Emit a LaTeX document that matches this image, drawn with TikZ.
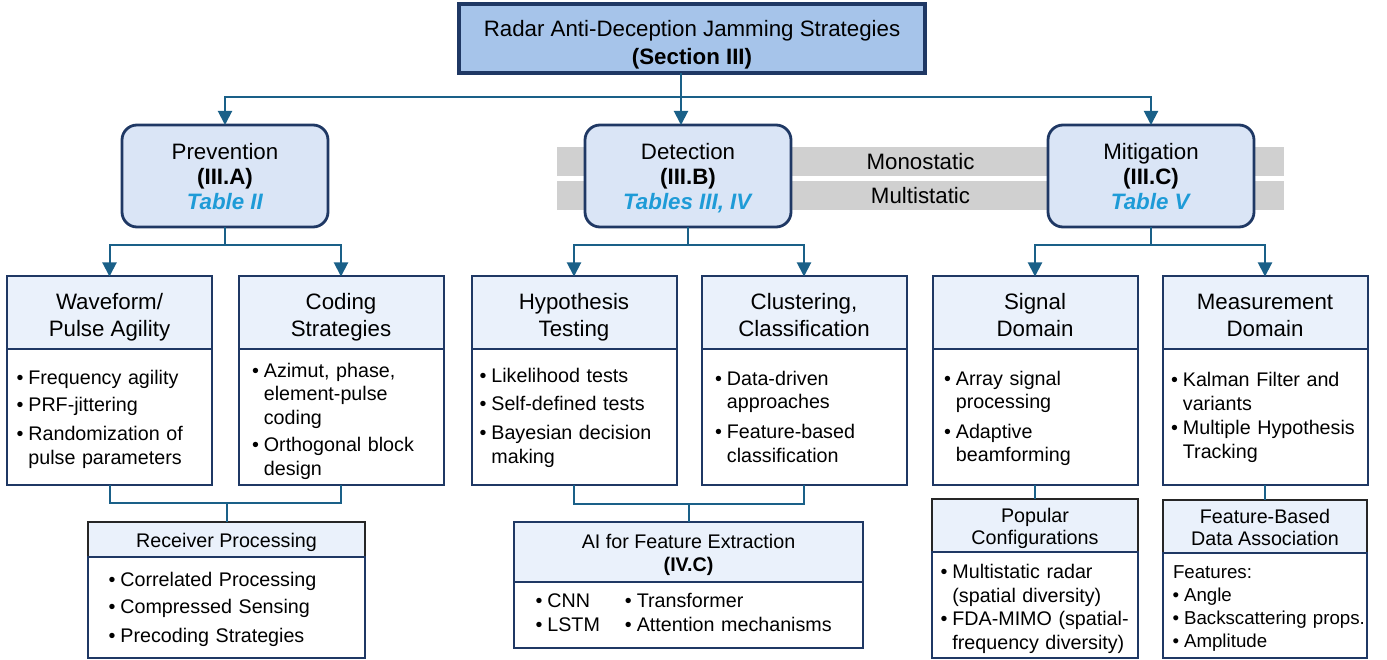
\documentclass[tikz,border=0pt]{standalone}
\usepackage{fontspec}
\setmainfont{Liberation Sans}
\usepackage{xcolor}
\usetikzlibrary{positioning, arrows.meta}

\definecolor{navy}{RGB}{31,56,100}
\definecolor{topfill}{RGB}{166,196,234}
\definecolor{midfill}{RGB}{218,229,246}
\definecolor{headfill}{RGB}{234,241,251}
\definecolor{linkcol}{RGB}{26,96,136}
\definecolor{tabcol}{RGB}{30,155,215}
\definecolor{bandgray}{RGB}{208,208,208}

\newcommand{\titlefont}{\fontsize{22.3}{28}\selectfont}
\newcommand{\midfont}{\fontsize{22.3}{25}\selectfont}
\newcommand{\headfont}{\fontsize{22.3}{27}\selectfont}
\newcommand{\itemfont}{\fontsize{19.7}{23.5}\selectfont}
\newcommand{\subfont}{\fontsize{19.7}{22.5}\selectfont}
\newcommand{\tbl}[1]{\textcolor{tabcol}{\textbf{\textit{#1}}}}
\newcommand{\fstheight}{16pt}
\newcommand{\fst}{\rule{0pt}{\fstheight}}
\newcommand{\dnstrut}[1]{\rule[-#1]{0pt}{#1}}
\newcommand{\bodydrop}{0pt}
\newenvironment{blist}[1][10pt]{\begin{tabular}{@{\hspace{#1}}l@{\hspace{5pt}}l@{}}}{\end{tabular}}

\begin{document}
\begin{tikzpicture}[x=1pt, y=-1pt,
	fst/.code={\def\fstheight{#1}},
	tail/.style={execute at end node={\dnstrut{#1}}},
	topbox/.style={draw=navy, line width=3.5pt, fill=topfill, minimum width=466pt, minimum height=69pt, inner sep=0pt, outer sep=0pt, align=center, font=\titlefont, fst=28.5pt, tail=5pt},
	midbox/.style={draw=navy, line width=2.8pt, fill=midfill, rounded corners=15pt, minimum width=206pt, minimum height=102pt, inner sep=0pt, outer sep=0pt, align=center, font=\midfont, fst=22pt, tail=5.4pt},
	band/.style={fill=bandgray, minimum width=727pt, minimum height=29pt, inner sep=0pt, font=\headfont},
	headbox/.style={draw=navy, line width=2pt, fill=headfill, minimum width=205pt, minimum height=72pt, inner sep=0pt, outer sep=0pt, align=center, font=\headfont, fst=26pt, tail=5pt},
	drop/.code={\def\bodydrop{#1}},
	bodybox/.style={draw=navy, line width=2pt, fill=white, text width=205pt, minimum height=136pt, inner sep=0pt, outer sep=0pt, align=left, font=\itemfont, execute at begin node={\vspace*{\bodydrop}}},
	subhead/.style={draw=black!85, line width=2pt, fill=headfill, inner sep=0pt, outer sep=0pt, align=center, font=\subfont, fst=20.5pt, tail=5pt},
	link/.style={draw=linkcol, line width=2pt},
	arr/.style={link, -{Triangle[length=14pt, width=14pt]}}
	]
	\useasboundingbox (0,0) rectangle (1387,660);
	
	% Top
	\node[topbox] (top) at (692,38.5) {\fst Radar Anti-Deception Jamming Strategies\\ \textbf{(Section III)}};
	
	% Gray bands behind the middle row
	\node[band] (mono) at (920.5,161.5) {Monostatic};
	\node[band] (multi) at (920.5,195.5) {Multistatic};
	
	% Middle row
	\node[midbox] (prev) at (225,176) {\fst Prevention\\ \textbf{(III.A)}\\ \tbl{Table II}};
	\node[midbox] (det) at (688,176) {\fst Detection\\ \textbf{(III.B)}\\ \tbl{Tables III, IV}};
	\node[midbox] (mit) at (1151,176) {\fst Mitigation\\ \textbf{(III.C)}\\ \tbl{Table V}};
	
	\path (top.south) ++(-11,0) coordinate (tt) ++(0,24) coordinate (tb);
	\draw[link] (tt) -- (tb);
	\draw[arr] (tb) -- (tb |- det.north);
	\foreach \m in {prev,mit} {
		\draw[arr] (tb) -| (\m.north);
	}
	
	% Third row, headers
	\node[headbox] (wave) at (109.5,312.5) {\fst Waveform/\\Pulse Agility};
	\node[headbox] (cod) at (341,312.5) {\fst Coding\\Strategies};
	\node[headbox] (hyp) at (574,312.5) {\fst Hypothesis\\Testing};
	\node[headbox] (clu) at (804,312.5) {\fst Clustering,\\Classification};
	\node[headbox] (sig) at (1035,312.5) {\fst Signal\\Domain};
	\node[headbox] (meas) at (1265,312.5) {\fst Measurement\\Domain};
	
	% Third row, bodies
	\node[bodybox, drop=-7pt, below=0pt of wave] (wavebody) {\begin{blist}[9.5pt]
			\textbullet & Frequency agility\\[3.5pt]
			\textbullet & PRF-jittering\\[5.5pt]
			\textbullet & Randomization of\\
			& pulse parameters
		\end{blist}};
	\node[bodybox, drop=-10pt, below=0pt of cod] (codbody) {\begin{blist}[13.5pt]
			\textbullet & Azimut, phase,\\
			& element-pulse\\
			& coding\\[4pt]
			\textbullet & Orthogonal block\\
			& design
		\end{blist}};
	\node[bodybox, drop=-3.4pt, below=0pt of hyp] (hypbody) {\begin{blist}[8pt]
			\textbullet & Likelihood tests\\[4.5pt]
			\textbullet & Self-defined tests\\[5.5pt]
			\textbullet & Bayesian decision\\
			& making
		\end{blist}};
	\node[bodybox, drop=-5pt, below=0pt of clu] (clubody) {\begin{blist}[13.5pt]
			\textbullet & Data-driven\\
			& approaches\\[6.5pt]
			\textbullet & Feature-based\\
			& classification
		\end{blist}};
	\node[bodybox, drop=-5pt, below=0pt of sig] (sigbody) {\begin{blist}[11.5pt]
			\textbullet & Array signal\\
			& processing\\[6pt]
			\textbullet & Adaptive\\
			& beamforming
		\end{blist}};
	\node[bodybox, drop=-3pt, below=0pt of meas] (measbody) {\begin{blist}[8.5pt]
			\textbullet & Kalman Filter and\\
			& variants\\[1pt]
			\textbullet & Multiple Hypothesis\\
			& Tracking
		\end{blist}};
	
	\foreach \m/\a/\b in {prev/wave/cod, det/hyp/clu, mit/sig/meas} {
		\path (\m.south) ++(0,18) coordinate (\m bar);
		\draw[link] (\m.south) -- (\m bar);
		\draw[arr] (\m bar) -| (\a.north);
		\draw[arr] (\m bar) -| (\b.north);
	}
	
	% Bottom row
	\node[subhead, minimum width=277pt, minimum height=35pt] (recv) at (226.5,539.5) {\fst Receiver Processing};
	\node[bodybox, drop=-4pt, text width=277pt, minimum height=101pt, below=0pt of recv] (recvbody) {\begin{blist}[20.5pt]
			\textbullet & Correlated Processing\\[3.5pt]
			\textbullet & Compressed Sensing\\[5.5pt]
			\textbullet & Precoding Strategies
		\end{blist}};
	
	\node[subhead, draw=navy, minimum width=349pt, minimum height=60pt] (ai) at (688.5,552) {\fst AI for Feature Extraction\\ \textbf{(IV.C)}};
	\node[bodybox, drop=0pt, text width=349pt, minimum height=66pt, below=0pt of ai] (aibody) {\begin{tabular}{@{\hspace{21.5pt}}l@{\hspace{5pt}}l@{\hspace{25pt}}l@{\hspace{5pt}}l@{}}
			\textbullet & CNN & \textbullet & Transformer\\
			\textbullet & LSTM & \textbullet & Attention mechanisms
		\end{tabular}};
	
	\node[subhead, minimum width=206pt, minimum height=53pt] (pop) at (1035,525.5) {\fst Popular\\Configurations};
	\node[bodybox, drop=-9pt, text width=206pt, minimum height=106pt, below=0pt of pop] (popbody) {\begin{blist}[8.5pt]
			\textbullet & Multistatic radar\\
			& (spatial diversity)\\
			\textbullet & FDA-MIMO (spatial-\\
			& frequency diversity)
		\end{blist}};
	
	\node[subhead, minimum width=204pt, minimum height=53pt] (fba) at (1265,526.5) {\fst Feature-Based\\Data Association};
	\node[bodybox, drop=-6pt, text width=204pt, minimum height=105pt, below=0pt of fba, font=\fontsize{18.7}{23}\selectfont] (fbabody) {\begin{blist}[9.5pt]
			\multicolumn{2}{@{\hspace{10pt}}l@{}}{Features:}\\
			\textbullet & Angle\\
			\textbullet & Backscattering props.\\
			\textbullet & Amplitude
		\end{blist}};
	
	% Joining lines
	\path (wavebody.south) ++(0,18) coordinate (wj);
	\draw[link] (wavebody.south) -- (wj) -| (codbody.south);
	\draw[link] (wj -| recv.north) -- (recv.north);
	\path (hypbody.south) ++(0,19) coordinate (hj);
	\draw[link] (hypbody.south) -- (hj) -| (clubody.south);
	\draw[link] (hj -| ai.north) -- (ai.north);
	\draw[link] (sigbody.south) -- (pop.north);
	\draw[link] (measbody.south) -- (fba.north);
\end{tikzpicture}
\end{document}
